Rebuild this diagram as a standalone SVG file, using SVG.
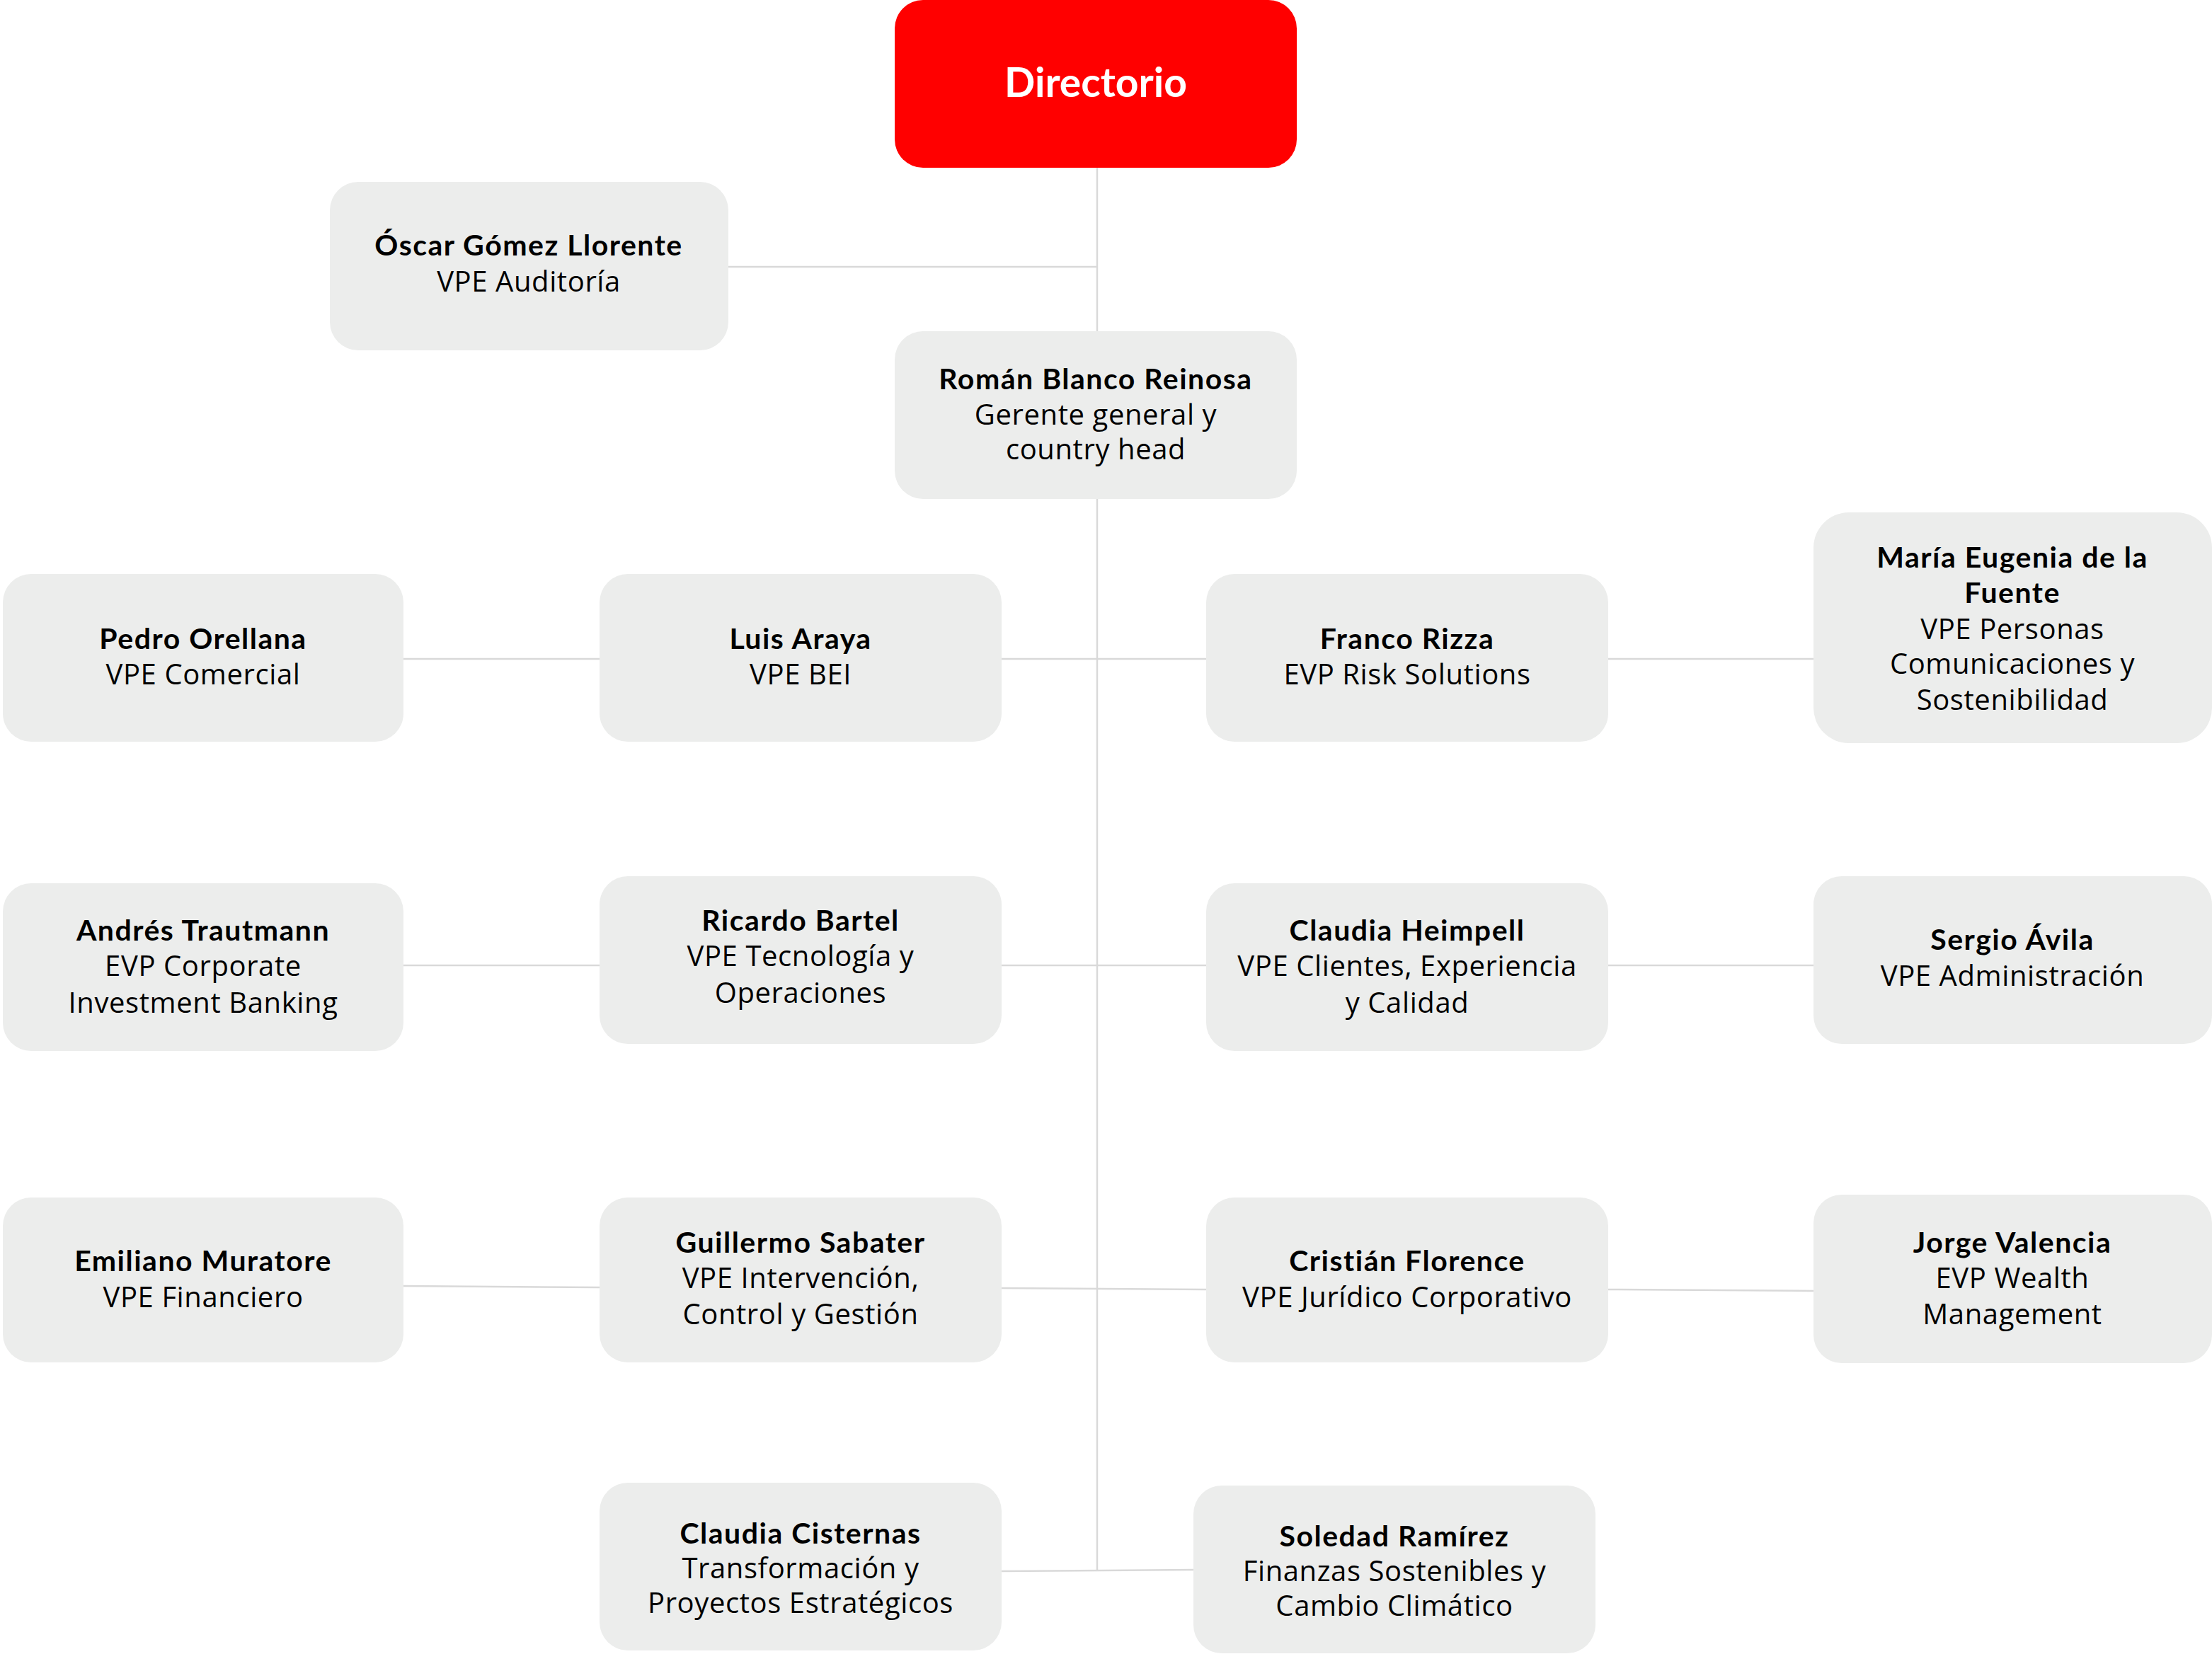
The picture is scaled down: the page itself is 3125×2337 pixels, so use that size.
<svg xmlns="http://www.w3.org/2000/svg" width="3125" height="2337" viewBox="0 0 3125 2337">
<style>
.box{fill:#ECEDEC}
.red{fill:#FF0000}
.n{font-family:Lato,"Open Sans",sans-serif;font-weight:700;font-size:41px;letter-spacing:1.5px;fill:#000;text-anchor:middle}
.r{font-family:"Open Sans","Noto Sans",sans-serif;font-weight:400;font-size:40px;letter-spacing:0.6px;fill:#000;text-anchor:middle}
.t{font-family:Lato,"Open Sans",sans-serif;font-weight:700;font-size:57px;fill:#fff;text-anchor:middle}
.c{stroke:#D9D9D9;stroke-width:2.5;fill:none}
</style>
<rect width="3125" height="2337" fill="#fff"/>
<g id="connectors">
<line class="c" x1="1550" y1="237" x2="1550" y2="2219"/>
<line class="c" x1="1029" y1="377" x2="1550" y2="377"/>
<line class="c" x1="570" y1="931" x2="847" y2="931"/>
<line class="c" x1="1415" y1="931" x2="1704" y2="931"/>
<line class="c" x1="2272" y1="931" x2="2562" y2="931"/>
<line class="c" x1="570" y1="1364" x2="847" y2="1364"/>
<line class="c" x1="1415" y1="1364" x2="1704" y2="1364"/>
<line class="c" x1="2272" y1="1364" x2="2562" y2="1364"/>
<line class="c" x1="570" y1="1817" x2="847" y2="1819"/>
<line class="c" x1="1415" y1="1820" x2="1704" y2="1822"/>
<line class="c" x1="2272" y1="1822" x2="2562" y2="1824"/>
<line class="c" x1="1415" y1="2220" x2="1686" y2="2218"/>
</g>
<g id="directorio">
<rect class="red" x="1264" y="0" width="568" height="237" rx="40"/>
<text class="t" x="1548" y="137">Directorio</text>
</g>
<g id="oscar">
<rect class="box" x="466" y="257" width="563" height="238" rx="40"/>
<text class="n" x="747" y="361">Óscar Gómez Llorente</text>
<text class="r" x="747" y="412">VPE Auditoría</text>
</g>
<g id="roman">
<rect class="box" x="1264" y="468" width="568" height="237" rx="40"/>
<text class="n" x="1548" y="550">Román Blanco Reinosa</text>
<text class="r" x="1548" y="600">Gerente general y</text>
<text class="r" x="1548" y="649">country head</text>
</g>
<g id="pedro">
<rect class="box" x="4" y="811" width="566" height="237" rx="40"/>
<text class="n" x="287" y="917">Pedro Orellana</text>
<text class="r" x="287" y="967">VPE Comercial</text>
</g>
<g id="luis">
<rect class="box" x="847" y="811" width="568" height="237" rx="40"/>
<text class="n" x="1131" y="917">Luis Araya</text>
<text class="r" x="1131" y="967">VPE BEI</text>
</g>
<g id="franco">
<rect class="box" x="1704" y="811" width="568" height="237" rx="40"/>
<text class="n" x="1988" y="917">Franco Rizza</text>
<text class="r" x="1988" y="967">EVP Risk Solutions</text>
</g>
<g id="maria">
<rect class="box" x="2562" y="724" width="563" height="326" rx="50"/>
<text class="n" x="2843" y="802">María Eugenia de la</text>
<text class="n" x="2843" y="852">Fuente</text>
<text class="r" x="2843" y="903">VPE Personas</text>
<text class="r" x="2843" y="952">Comunicaciones y</text>
<text class="r" x="2843" y="1003">Sostenibilidad</text>
</g>
<g id="andres">
<rect class="box" x="4" y="1248" width="566" height="237" rx="40"/>
<text class="n" x="287" y="1329">Andrés Trautmann</text>
<text class="r" x="287" y="1379">EVP Corporate</text>
<text class="r" x="287" y="1431">Investment Banking</text>
</g>
<g id="ricardo">
<rect class="box" x="847" y="1238" width="568" height="237" rx="40"/>
<text class="n" x="1131" y="1315">Ricardo Bartel</text>
<text class="r" x="1131" y="1365">VPE Tecnología y</text>
<text class="r" x="1131" y="1417">Operaciones</text>
</g>
<g id="claudia-heimpell">
<rect class="box" x="1704" y="1248" width="568" height="237" rx="40"/>
<text class="n" x="1988" y="1329">Claudia Heimpell</text>
<text class="r" x="1988" y="1379">VPE Clientes, Experiencia</text>
<text class="r" x="1988" y="1431">y Calidad</text>
</g>
<g id="sergio">
<rect class="box" x="2562" y="1238" width="563" height="237" rx="40"/>
<text class="n" x="2843" y="1342">Sergio Ávila</text>
<text class="r" x="2843" y="1393">VPE Administración</text>
</g>
<g id="emiliano">
<rect class="box" x="4" y="1692" width="566" height="233" rx="40"/>
<text class="n" x="287" y="1796">Emiliano Muratore</text>
<text class="r" x="287" y="1847">VPE Financiero</text>
</g>
<g id="guillermo">
<rect class="box" x="847" y="1692" width="568" height="233" rx="40"/>
<text class="n" x="1131" y="1770">Guillermo Sabater</text>
<text class="r" x="1131" y="1820">VPE Intervención,</text>
<text class="r" x="1131" y="1871">Control y Gestión</text>
</g>
<g id="cristian">
<rect class="box" x="1704" y="1692" width="568" height="233" rx="40"/>
<text class="n" x="1988" y="1796">Cristián Florence</text>
<text class="r" x="1988" y="1847">VPE Jurídico Corporativo</text>
</g>
<g id="jorge">
<rect class="box" x="2562" y="1688" width="563" height="238" rx="40"/>
<text class="n" x="2843" y="1770">Jorge Valencia</text>
<text class="r" x="2843" y="1820">EVP Wealth</text>
<text class="r" x="2843" y="1871">Management</text>
</g>
<g id="claudia-cisternas">
<rect class="box" x="847" y="2095" width="568" height="237" rx="40"/>
<text class="n" x="1131" y="2181">Claudia Cisternas</text>
<text class="r" x="1131" y="2230">Transformación y</text>
<text class="r" x="1131" y="2279">Proyectos Estratégicos</text>
</g>
<g id="soledad">
<rect class="box" x="1686" y="2099" width="568" height="237" rx="40"/>
<text class="n" x="1970" y="2185">Soledad Ramírez</text>
<text class="r" x="1970" y="2234">Finanzas Sostenibles y</text>
<text class="r" x="1970" y="2283">Cambio Climático</text>
</g>
</svg>
